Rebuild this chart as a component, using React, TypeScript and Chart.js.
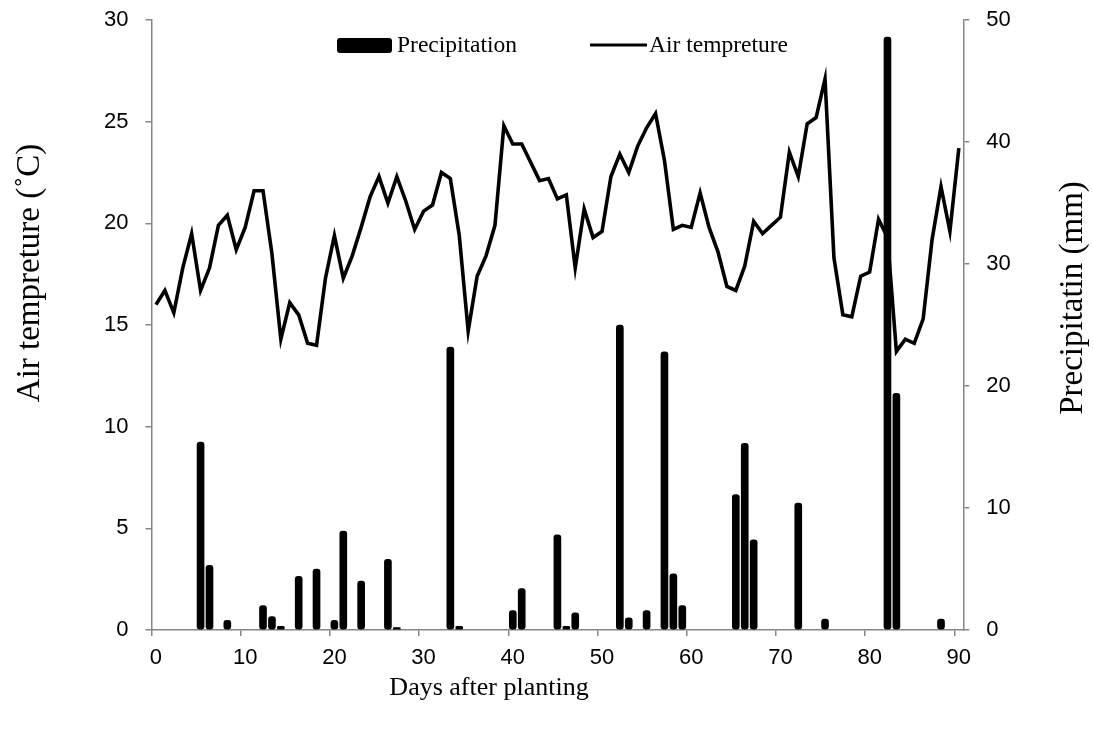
import React, { useEffect, useRef } from "react";
import { Chart, registerables } from "chart.js";

Chart.register(...registerables);

// Days after planting (categories 0..90)
const days: string[] = Array.from({ length: 91 }, (_, i) => String(i));

// Air temperature (°C) per day
const airTemperature: number[] = [
  16.0, 16.7, 15.6, 17.8, 19.5, 16.7, 17.8, 19.9, 20.4, 18.7,
  19.8, 21.6, 21.6, 18.5, 14.3, 16.1, 15.5, 14.1, 14.0, 17.3,
  19.4, 17.3, 18.4, 19.8, 21.3, 22.3, 21.0, 22.3, 21.1, 19.7,
  20.6, 20.9, 22.5, 22.2, 19.4, 14.7, 17.4, 18.4, 19.9, 24.8,
  23.9, 23.9, 23.0, 22.1, 22.2, 21.2, 21.4, 17.8, 20.7, 19.3,
  19.6, 22.3, 23.4, 22.5, 23.8, 24.7, 25.4, 23.1, 19.7, 19.9,
  19.8, 21.5, 19.8, 18.6, 16.9, 16.7, 17.9, 20.1, 19.5, 19.9,
  20.3, 23.5, 22.3, 24.9, 25.2, 27.1, 18.3, 15.5, 15.4, 17.4,
  17.6, 20.2, 19.3, 13.7, 14.3, 14.1, 15.3, 19.2, 21.8, 19.6,
  23.7,
];

// Precipitation events: day and amount (mm)
const rainDays: number[] = [
  5, 6, 8, 12, 13, 14, 16, 18, 20, 21, 23, 26, 27, 33, 34, 40, 41,
  45, 46, 47, 52, 53, 55, 57, 58, 59, 65, 66, 67, 72, 75, 82, 83, 88,
];
const rainMm: number[] = [
  15.4, 5.3, 0.8, 2.0, 1.1, 0.3, 4.4, 5.0, 0.8, 8.1, 4.0, 5.8, 0.2, 23.2, 0.3, 1.6, 3.4,
  7.8, 0.3, 1.4, 25.0, 1.0, 1.6, 22.8, 4.6, 2.0, 11.1, 15.3, 7.4, 10.4, 0.9, 48.6, 19.4, 0.9,
];

const tempTicks = { min: 0, max: 30, step: 5 };
const rainTicks = { min: 0, max: 50, step: 10 };

const xTitle = "Days after planting";
const yLeftTitle = "Air tempreture (\u02DAC)";
const yRightTitle = "Precipitatin (mm)";
const legendBar = "Precipitation";
const legendLine = "Air tempreture";

const SERIF = "'Liberation Serif', 'Times New Roman', serif";
const SANS = "'Liberation Sans', Arial, sans-serif";
const AXIS_GREY = "#868686";

export default function App() {
  const ref = useRef<HTMLCanvasElement | null>(null);

  useEffect(() => {
    document.body.style.margin = "0";
    const canvas = ref.current;
    if (!canvas) return;

    const precip: (number | null)[] = days.map(() => null);
    rainDays.forEach((d, i) => {
      precip[d] = rainMm[i];
    });

    const overlay = {
      id: "overlay",
      afterDraw(chart: any) {
        const ctx = chart.ctx as CanvasRenderingContext2D;
        const area = chart.chartArea;
        ctx.save();
        // legend
        const ly = area.top + 25;
        ctx.fillStyle = "#000";
        ctx.beginPath();
        (ctx as any).roundRect(337, ly - 7, 55, 15, 3);
        ctx.fill();
        ctx.font = `23.5px ${SERIF}`;
        ctx.textBaseline = "middle";
        ctx.textAlign = "left";
        ctx.fillText(legendBar, 397, ly + 1);
        ctx.strokeStyle = "#000";
        ctx.lineWidth = 3;
        ctx.beginPath();
        ctx.moveTo(590, ly);
        ctx.lineTo(647, ly);
        ctx.stroke();
        ctx.fillText(legendLine, 649, ly + 1);

        // axis titles
        ctx.textAlign = "center";
        ctx.textBaseline = "middle";
        ctx.font = `26px ${SERIF}`;
        ctx.fillText(xTitle, 489, 688);

        ctx.font = `33px ${SERIF}`;
        ctx.save();
        ctx.translate(30, 273);
        ctx.rotate(-Math.PI / 2);
        ctx.fillText(yLeftTitle, 0, 0);
        ctx.restore();

        ctx.save();
        ctx.translate(1073, 298);
        ctx.rotate(-Math.PI / 2);
        ctx.fillText(yRightTitle, 0, 0);
        ctx.restore();
        ctx.restore();
      },
    };

    const fitY = (w: number) => (s: any) => {
      s.width = w;
      s.paddingTop = 0;
      s.paddingBottom = 0;
    };

    const chart = new Chart(canvas, {
      type: "bar",
      data: {
        labels: days,
        datasets: [
          {
            type: "bar",
            label: legendBar,
            data: precip as any,
            yAxisID: "yP",
            backgroundColor: "#000",
            barThickness: 7,
            borderRadius: 3,
            borderSkipped: false,
            order: 0,
          },
          {
            type: "line",
            label: legendLine,
            data: airTemperature,
            yAxisID: "yT",
            borderColor: "#000",
            borderWidth: 3.6,
            pointRadius: 0,
            tension: 0,
            order: 1,
          } as any,
        ],
      },
      options: {
        responsive: false,
        animation: false,
        layout: { padding: { top: 20, left: 0, right: 0, bottom: 0 } },
        plugins: { legend: { display: false }, tooltip: { enabled: false } },
        scales: {
          x: {
            type: "category",
            offset: true,
            grid: {
              offset: true,
              drawOnChartArea: false,
              tickLength: 6,
              lineWidth: 1.5,
              color: (c: any) => (c.index % 10 === 0 ? AXIS_GREY : "rgba(0,0,0,0)"),
            },
            border: { color: AXIS_GREY, width: 1.5 },
            ticks: {
              autoSkip: false,
              maxRotation: 0,
              minRotation: 0,
              padding: 9,
              color: "#000",
              font: { family: SANS, size: 22 },
              callback: (_v: any, i: number) => (i % 10 === 0 ? days[i] : ""),
            },
            afterFit: (s: any) => {
              s.height = 102;
              s.paddingLeft = 0;
              s.paddingRight = 0;
            },
          },
          yT: {
            position: "left",
            min: tempTicks.min,
            max: tempTicks.max,
            grid: { drawOnChartArea: false, tickLength: 6, color: AXIS_GREY, lineWidth: 1.5 },
            border: { color: AXIS_GREY, width: 1.5 },
            ticks: {
              stepSize: tempTicks.step,
              padding: 17,
              color: "#000",
              font: { family: SANS, size: 22 },
            },
            afterFit: fitY(151.5),
          },
          yP: {
            position: "right",
            min: rainTicks.min,
            max: rainTicks.max,
            grid: { drawOnChartArea: false, tickLength: 6, color: AXIS_GREY, lineWidth: 1.5 },
            border: { color: AXIS_GREY, width: 1.5 },
            ticks: {
              stepSize: rainTicks.step,
              padding: 17,
              color: "#000",
              font: { family: SANS, size: 22 },
            },
            afterFit: fitY(129.7),
          },
        },
      } as any,
      plugins: [overlay],
    });

    return () => chart.destroy();
  }, []);

  return (
    <div style={{ width: 1093, height: 732, background: "#fff" }}>
      <canvas ref={ref} width={1093} height={732} style={{ display: "block" }} />
    </div>
  );
}
